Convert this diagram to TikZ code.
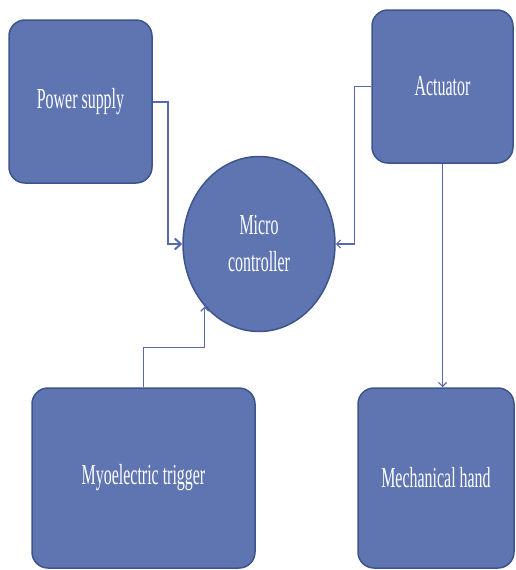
\documentclass[tikz,border=0pt]{standalone}
\usepackage{fontspec}
\usetikzlibrary{shapes.geometric,arrows.meta}
\newfontfamily\blockfont[FakeStretch=0.55]{Liberation Serif}
\definecolor{blockfill}{RGB}{95,117,178}
\definecolor{blockdraw}{RGB}{62,84,140}
\definecolor{wire}{RGB}{85,105,172}

\begin{document}
\begin{tikzpicture}[x=1pt,
y=-1pt,
every node/.style={
align = center,
text=white,
font=\blockfont\fontsize{29}{37}\selectfont,
},
box/.style={
draw=blockdraw,
fill=blockfill,
line width=1.5pt,
rectangle,
rounded corners=16pt,
},
blob/.style={
draw=blockdraw,
fill=blockfill,
line width=1.5pt,
ellipse,
},
wirearrow/.style={
draw=wire,
line width=1.2pt,
-{Straight Barb[length=4pt,width=8pt]},
}]
\useasboundingbox (0,0) rectangle (515,570);

%Blocks
\node[box,minimum width=143pt,minimum height=163pt] (power) at (80.5,101.5) {Power supply};
\node[box,minimum width=141pt,minimum height=153pt] (actuator) at (442.5,86.5) {Actuator};
\node[blob,minimum width=152pt,minimum height=175pt,inner sep=0pt] (micro) at (259,244) {Micro\\controller};
\node[box,minimum width=223pt,minimum height=180pt] (myo) at (143.5,478) {Myoelectric trigger};
\node[box,minimum width=156pt,minimum height=180pt] (hand) at (436,478) {Mechanical hand};

%Connections
\draw[wirearrow,line width=2pt,-{Straight Barb[length=6pt,width=11pt]}] (power.east) -- ++(15,0) |- (micro.west);
\draw[wirearrow] (actuator.west) -- ++(-17,0) |- (micro.east);
\draw[wirearrow] (actuator.south) -- (actuator.south |- hand.north);
\draw[wirearrow] (myo.north) -- ++(0,-40) -| (micro.south west);
\end{tikzpicture}
\end{document}
